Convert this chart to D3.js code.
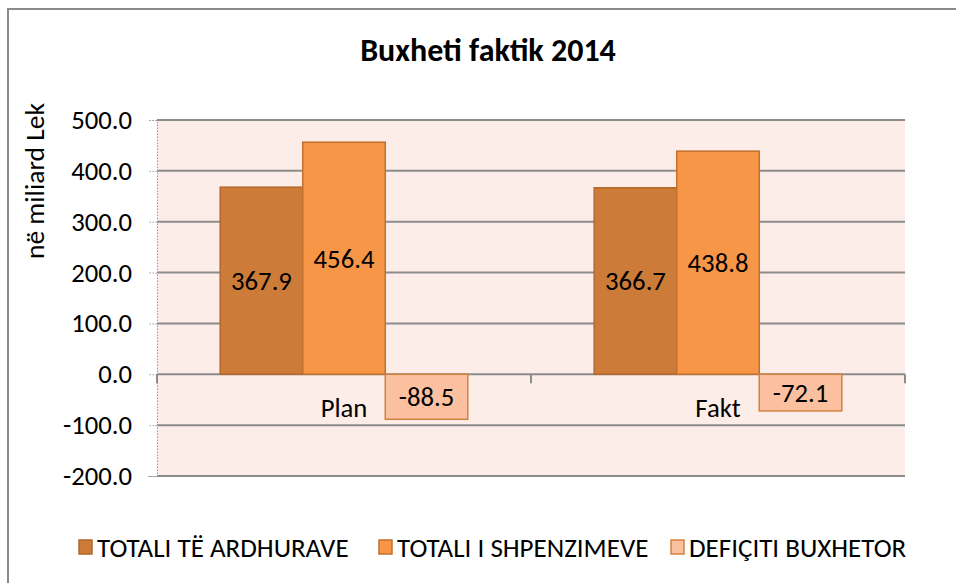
<!DOCTYPE html>
<html>
<head>
<meta charset="utf-8">
<script src="https://cdn.jsdelivr.net/npm/d3@7"></script>
<style>
    body { margin: 0; background: #ffffff; }
    svg text { font-family: Carlito, Lato, "Open Sans", sans-serif; fill: #000000; }
</style>
</head>
<body>
<svg id="chart"></svg>
<script>
var categories = ['Plan', 'Fakt'],
    series = ['TOTALI TË ARDHURAVE', 'TOTALI I SHPENZIMEVE', 'DEFIÇITI BUXHETOR'],
    revenues = [367.9, 366.7],
    expenses = [456.4, 438.8],
    deficit = [-88.5, -72.1],
    yTicks = [500, 400, 300, 200, 100, 0, -100, -200];

var fills = ['#cc7b38', '#f79646', '#fac09f'],
    strokes = ['#b2672b', '#c2702f', '#d3813f'];

var width = 956,
    height = 583,
    plot = {left: 157, right: 905, top: 120, bottom: 476},
    fontSize = "26.7px";

// plain hyphen for negatives, like the original
var fmt = function(d){ return d.toFixed(1); };

var svg = d3.select("#chart")
    .attr("width", width)
    .attr("height", height);

// outer chart frame (only top and left edges are inside the picture)
svg.append("path")
    .attr("d", "M8,600V9H970")
    .attr("fill", "none")
    .attr("stroke", "#8a8a8a")
    .attr("stroke-width", 2);

svg.append("text")
    .attr("x", 488)
    .attr("y", 61)
    .attr("text-anchor", "middle")
    .style("font-size", "32px")
    .style("font-weight", "bold")
    .text("Buxheti faktik 2014");

var x0 = d3.scaleBand()
    .domain(categories)
    .range([plot.left, plot.right]);

var x1 = d3.scaleBand()
    .domain(series)
    .range([x0.bandwidth() * 0.169, x0.bandwidth() * 0.831]);

var y = d3.scaleLinear()
    .domain([-200, 500])
    .range([plot.bottom, plot.top]);

svg.append("rect")
    .attr("x", plot.left)
    .attr("y", plot.top)
    .attr("width", plot.right - plot.left)
    .attr("height", plot.bottom - plot.top)
    .attr("fill", "#fcede8");

// gridlines
svg.append("g")
    .selectAll("line")
    .data(yTicks)
    .enter()
    .append("line")
    .attr("x1", plot.left)
    .attr("x2", plot.right)
    .attr("y1", function(d){ return y(d); })
    .attr("y2", function(d){ return y(d); })
    .attr("stroke", "#8c8c8c")
    .attr("stroke-width", 2);

// y axis, dotted like the original
var yAxis = svg.append("g")
    .attr("transform", "translate(" + plot.left + ",0)")
    .call(d3.axisLeft(y).tickValues(yTicks).tickSize(9).tickPadding(16).tickFormat(fmt));
yAxis.select(".domain")
    .attr("stroke", "#9a9a9a")
    .attr("stroke-dasharray", "1.5,1.5");
yAxis.selectAll(".tick line")
    .attr("stroke", "#9a9a9a")
    .attr("stroke-dasharray", "1.5,1.5");
yAxis.selectAll(".tick text")
    .style("font-family", "Carlito, Lato, 'Open Sans', sans-serif")
    .style("font-size", fontSize)
    .attr("fill", "#000");

svg.append("text")
    .attr("transform", "translate(44,181) rotate(-90)")
    .attr("text-anchor", "middle")
    .style("font-size", "27.5px")
    .text("në miliard Lek");

// category ticks on the zero line
var catTicks = categories.map(function(c){ return x0(c); }).concat([plot.right]);
svg.append("g")
    .selectAll("line")
    .data(catTicks)
    .enter()
    .append("line")
    .attr("x1", function(d){ return d; })
    .attr("x2", function(d){ return d; })
    .attr("y1", y(0))
    .attr("y2", y(0) + 9)
    .attr("stroke", "#8c8c8c")
    .attr("stroke-width", 2);

var rows = [revenues, expenses, deficit];
var barData = [];
categories.forEach(function(c, i){
    series.forEach(function(s, j){
        barData.push({cat: c, s: s, idx: j, value: rows[j][i]});
    });
});

var bars = svg.append("g")
    .selectAll("g")
    .data(barData)
    .enter()
    .append("g");

bars.append("rect")
    .attr("x", function(d){ return x0(d.cat) + x1(d.s); })
    .attr("y", function(d){ return y(Math.max(0, d.value)); })
    .attr("width", x1.bandwidth())
    .attr("height", function(d){ return Math.abs(y(d.value) - y(0)); })
    .attr("fill", function(d){ return fills[d.idx]; })
    .attr("stroke", function(d){ return strokes[d.idx]; })
    .attr("stroke-width", 1.5);

bars.append("text")
    .attr("x", function(d){ return x0(d.cat) + x1(d.s) + x1.bandwidth() / 2; })
    .attr("y", function(d){ return (y(d.value) + y(0)) / 2; })
    .attr("dy", "0.35em")
    .attr("text-anchor", "middle")
    .style("font-size", fontSize)
    .text(function(d){ return fmt(d.value); });

svg.append("g")
    .selectAll("text")
    .data(categories)
    .enter()
    .append("text")
    .attr("x", function(d){ return x0(d) + x0.bandwidth() / 2; })
    .attr("y", y(0) + 43)
    .attr("text-anchor", "middle")
    .style("font-size", fontSize)
    .text(function(d){ return d; });

// legend
var legendX = [79, 379, 671];
var legend = svg.append("g")
    .selectAll("g")
    .data(series)
    .enter()
    .append("g")
    .attr("transform", function(d, i){ return "translate(" + legendX[i] + ",547)"; });

legend.append("rect")
    .attr("x", 0)
    .attr("y", -7)
    .attr("width", 13)
    .attr("height", 14)
    .attr("fill", function(d, i){ return fills[i]; })
    .attr("stroke", function(d, i){ return strokes[i]; })
    .attr("stroke-width", 1.5);

legend.append("text")
    .attr("x", 18)
    .attr("dy", "0.36em")
    .style("font-size", "27px")
    .text(function(d){ return d; });
</script>
</body>
</html>
